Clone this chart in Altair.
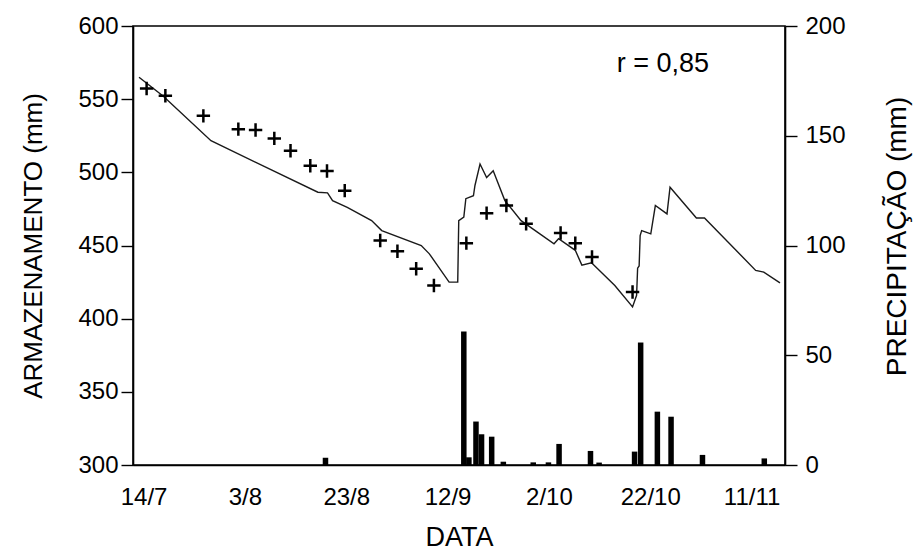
import altair as alt
import pandas as pd

FONT = "Liberation Sans"

# x positions are days counted from 14/7
TICK_DAYS = [0, 20, 40, 60, 80, 100, 120]
TICK_LABELS = ["14/7", "3/8", "23/8", "12/9", "2/10", "22/10", "11/11"]

# simulated storage (line)
LINE_DAY = [-0.9, 3.9, 13.3, 34.4, 36.3, 37.3, 40.2, 45.0, 47.0, 54.8, 56.4, 60.3, 62.0, 62.2,
            63.2, 63.6, 65.1, 65.4, 66.4, 67.7, 69.0, 71.3, 74.5, 81.0, 81.9, 85.2, 86.5, 88.4,
            93.0, 96.5, 97.3, 97.5, 97.8, 98.0, 98.3, 100.1, 101.0, 103.3, 103.9, 109.1, 110.7,
            120.8, 122.4, 125.6]
LINE_VAL = [565, 552, 521.6, 486.4, 486, 480.7, 476, 467, 460.2, 450, 444.3, 425, 425, 467,
            469.4, 482, 484, 491, 505.7, 496.5, 501.1, 480.7, 467, 451.2, 454.6, 446.7, 436.6, 438.2,
            422.7, 408, 416, 434.5, 436, 456.8, 460.2, 458, 477.3, 471.6, 489.8, 468.8, 468.8,
            433, 431.8, 424.5]

# measured storage (+ markers)
OBS_DAY = [0.6, 4.3, 11.8, 18.7, 22.1, 25.8, 29.0, 32.9, 36.2, 39.7, 46.7, 50.1, 53.8, 57.3,
           63.7, 67.7, 71.6, 75.5, 82.3, 85.2, 88.5, 96.5]
OBS_VAL = [557.3, 552.3, 538.6, 529.5, 528.9, 523.2, 514.8, 504.5, 500.9, 487.5, 453.4, 446.1,
           434.1, 422.7, 451.6, 472.1, 477.3, 464.8, 458.5, 451.6, 442.1, 418.2]

# precipitation bars
RAIN_DAY = [35.9, 63.2, 64.2, 65.6, 66.7, 68.7, 71.0, 76.9, 79.9, 82.0, 88.2, 89.9, 96.9, 98.1,
            101.4, 104.1, 110.3, 122.5]
RAIN_MM = [3.3, 60.8, 3.5, 19.8, 14.0, 12.9, 1.5, 1.2, 1.2, 9.6, 6.4, 1.1, 6.1, 55.8,
           24.3, 22.0, 4.6, 3.0]

ANNOT_DAY = [102.5]
ANNOT_VAL = [574]
ANNOT_TEXT = ["r = 0,85"]

line_df = pd.DataFrame({"day": LINE_DAY, "arm": LINE_VAL})
obs_df = pd.DataFrame({"day": OBS_DAY, "arm": OBS_VAL})
rain_df = pd.DataFrame({"day": RAIN_DAY, "prec": RAIN_MM})
ann_df = pd.DataFrame({"day": ANNOT_DAY, "arm": ANNOT_VAL, "t": ANNOT_TEXT})

label_expr = ""
for d, l in zip(TICK_DAYS, TICK_LABELS):
    label_expr += f"datum.value == {d} ? '{l}' : "
label_expr += "''"

xscale = alt.Scale(domain=[-1.1, 125.6], nice=False, zero=False)
xaxis = alt.Axis(values=TICK_DAYS, labelExpr=label_expr, ticks=False, grid=False,
                 title="DATA", titleFontSize=27, titleFontWeight="normal", titleFont=FONT,
                 titleY=72, titleBaseline="middle",
                 labelFontSize=24, labelFont=FONT, labelPadding=20, labelColor="black",
                 domainColor="black", domainWidth=1.6, titleColor="black")

yleft = alt.Scale(domain=[300, 600], nice=False, zero=False)
yaxis_left = alt.Axis(values=[300, 350, 400, 450, 500, 550, 600], grid=False,
                      title="ARMAZENAMENTO (mm)", titleFontSize=26, titleFontWeight="normal",
                      titleFont=FONT, titleX=-100, titleBaseline="middle", titleAngle=270,
                      titleColor="black",
                      labelFontSize=24, labelFont=FONT, labelPadding=3, labelColor="black",
                      tickSize=12, tickColor="black", tickWidth=1.4,
                      domainColor="black", domainWidth=1.6)

yright = alt.Scale(domain=[0, 200], nice=False, zero=True)
yaxis_right = alt.Axis(orient="right", values=[0, 50, 100, 150, 200], grid=False,
                       title="PRECIPITAÇÃO (mm)", titleFontSize=28, titleFontWeight="normal",
                       titleFont=FONT, titleX=112, titleY=210, titleBaseline="middle",
                       titleAngle=270, titleColor="black",
                       labelFontSize=24, labelFont=FONT, labelPadding=8, labelColor="black",
                       tickSize=12, tickColor="black", tickWidth=1.4,
                       domainColor="black", domainWidth=1.6)

x_enc = alt.X("day:Q", scale=xscale, axis=xaxis)

line = alt.Chart(line_df).mark_line(color="#1a1a1a", strokeWidth=1.4).encode(
    x=x_enc,
    y=alt.Y("arm:Q", scale=yleft, axis=yaxis_left),
)

pts = alt.Chart(obs_df).mark_point(
    shape="M -1 0 L 1 0 M 0 -1 L 0 1", filled=False, color="black",
    strokeWidth=2.5, size=180, opacity=1
).encode(
    x=alt.X("day:Q", scale=xscale),
    y=alt.Y("arm:Q", scale=yleft),
)

txt = alt.Chart(ann_df).mark_text(font=FONT, fontSize=27, color="black", align="center",
                                  baseline="middle").encode(
    x=alt.X("day:Q", scale=xscale),
    y=alt.Y("arm:Q", scale=yleft),
    text="t:N",
)

left = alt.layer(line, pts, txt)

bars = alt.Chart(rain_df).mark_bar(color="black", size=5.5).encode(
    x=alt.X("day:Q", scale=xscale),
    y=alt.Y("prec:Q", scale=yright, axis=yaxis_right),
)

chart = alt.layer(left, bars).resolve_scale(y="independent").properties(
    width=652, height=439,
    autosize=alt.AutoSizeParams(type="none"),
    padding={"left": 125, "top": 18, "right": 128, "bottom": 88},
    background="white",
).configure_view(stroke="black", strokeWidth=1.6)

chart.save("out.html", embed_options={"renderer": "svg", "actions": False})
